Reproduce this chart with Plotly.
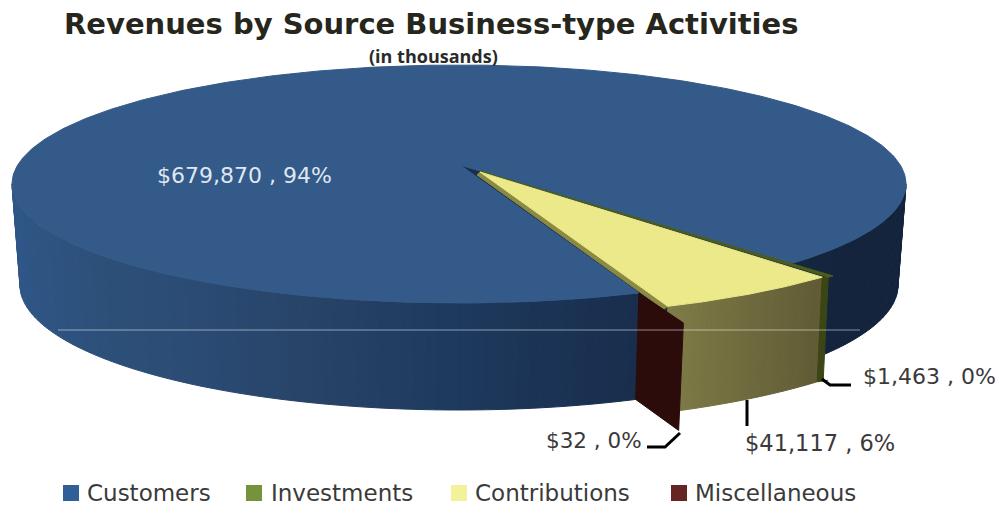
import numpy as np
import plotly.graph_objs as go

sources = ["Customers", "Investments", "Contributions", "Miscellaneous"]
amounts = [679870, 1463, 41117, 32]
legend_colors = ["#2f5f96", "#76923c", "#f2f29b", "#652523"]

total = sum(amounts)
labels = [f"${v:,} , {round(100 * v / total)}%" for v in amounts]

# pie geometry, in page pixels
START_ANGLE = 159.6
APEX = (460, 165)
TOP = dict(cx=459, cy=184, rx=447, ry=119)
BOTTOM = dict(cx=459, cy=285, rx=439, ry=125)
WEDGE_X, WEDGE_Y, WEDGE_SCALE = 480, 172, 1.05
NAVY = "#345a89"

angles = np.cumsum([START_ANGLE] + [v / total * 360 for v in amounts])


def _rim(theta):
    """Point on the top ellipse for a pie angle (clockwise from 12 o'clock)."""
    th = np.radians(theta)
    dx, dy = np.sin(th) * TOP["rx"], -np.cos(th) * TOP["ry"]
    ox, oy = APEX[0] - TOP["cx"], APEX[1] - TOP["cy"]
    a = (dx / TOP["rx"]) ** 2 + (dy / TOP["ry"]) ** 2
    b = 2 * (ox * dx / TOP["rx"] ** 2 + oy * dy / TOP["ry"] ** 2)
    c = (ox / TOP["rx"]) ** 2 + (oy / TOP["ry"]) ** 2 - 1
    k = (-b + np.sqrt(b * b - 4 * a * c)) / (2 * a)
    return APEX[0] + k * dx, APEX[1] + k * dy


def _base(theta):
    """Same pie angle, on the lower ellipse."""
    x, y = _rim(theta)
    t = np.arctan2((y - TOP["cy"]) / TOP["ry"], (x - TOP["cx"]) / TOP["rx"])
    return BOTTOM["cx"] + BOTTOM["rx"] * np.cos(t), BOTTOM["cy"] + BOTTOM["ry"] * np.sin(t)


def _wedge_top(theta, off=(0, 0)):
    x, y = _rim(theta)
    return (WEDGE_X + WEDGE_SCALE * (x - APEX[0]) + off[0],
            WEDGE_Y + WEDGE_SCALE * (y - APEX[1]) + off[1])


def _wedge_base(theta, off=(0, 0)):
    x, y = _base(theta)
    return (WEDGE_X + WEDGE_SCALE * (x - BOTTOM["cx"]) + off[0], WEDGE_SCALE * y - 7 + off[1])


def poly(pts, color, name=None):
    xs, ys = zip(*pts)
    return go.Scatter(x=list(xs) + [xs[0]], y=list(ys) + [ys[0]], mode="lines", fill="toself",
                      fillcolor=color, line=dict(color=color, width=1), name=name,
                      hoverinfo="name" if name else "skip", showlegend=False)


def hex_mix(x, xs, stops):
    rgb = [np.interp(x, xs, [int(s[i:i + 2], 16) for s in stops]) for i in (1, 3, 5)]
    return "rgb(%d,%d,%d)" % tuple(rgb)


fig = go.Figure()

# outer wall of the big slice, drawn as thin strips to get the shading
side_x = [20, 100, 200, 300, 450, 600, 700, 850, 900]
side_c = ["#2f5686", "#2d5079", "#2b4b74", "#284468", "#1e3a5e", "#1a3050",
          "#172b47", "#14243c", "#14243c"]
ts = np.radians(np.linspace(180, 0, 121))
for t0, t1 in zip(ts[:-1], ts[1:]):
    pts = []
    for t in (t0, t1):
        pts.append((TOP["cx"] + TOP["rx"] * np.cos(t), TOP["cy"] + TOP["ry"] * np.sin(t)))
    for t in (t1, t0):
        pts.append((BOTTOM["cx"] + BOTTOM["rx"] * np.cos(t), BOTTOM["cy"] + BOTTOM["ry"] * np.sin(t)))
    fig.add_trace(poly(pts, hex_mix(pts[0][0], side_x, side_c)))

# gap left behind by the pulled-out slices
fig.add_trace(poly([APEX, _rim(angles[1]), _rim(angles[3])], "#1a2f50"))

# Customers top face
thetas = np.linspace(angles[0], angles[1], 400)
fig.add_trace(poly([APEX] + [_rim(a) for a in thetas], NAVY, sources[0]))

# Contributions wall
c_thetas = np.linspace(angles[2], angles[3], 40)
for a0, a1 in zip(c_thetas[:-1], c_thetas[1:]):
    pts = [_wedge_top(a0), _wedge_top(a1), _wedge_base(a1), _wedge_base(a0)]
    fig.add_trace(poly(pts, hex_mix(pts[0][0], [670, 820], ["#7f7d48", "#625c36"])))

# Investments sliver
i_off = (6, 0)
i_thetas = np.linspace(angles[1], angles[2], 6)
fig.add_trace(poly([_wedge_top(a, i_off) for a in i_thetas] + [_wedge_base(a, i_off) for a in i_thetas[::-1]]
                   + [_wedge_base(angles[2]), _wedge_top(angles[2])], "#3b4614"))
fig.add_trace(poly([(WEDGE_X, WEDGE_Y - 1)] + [_wedge_top(a, i_off) for a in i_thetas], "#4c5c1c", sources[1]))

# Contributions top face, with a thin edge under it
edge = [(WEDGE_X - 3, WEDGE_Y + 3)] + [_wedge_top(a, (-4, 3)) for a in c_thetas[-1:]]
fig.add_trace(poly(edge + [_wedge_top(angles[3]), (WEDGE_X, WEDGE_Y)], "#8a8a42"))

# Miscellaneous wall
mx, my = _rim(angles[3])
bx, by = _base(angles[3])
fig.add_trace(poly([(mx, my), (mx + 44.5, my + 30), (bx + 43, by + 31), (bx, by)], "#2b0c0a", sources[3]))

fig.add_trace(poly([(WEDGE_X, WEDGE_Y)] + [_wedge_top(a) for a in c_thetas], "#ebe98a", sources[2]))

# faint line across the picture
fig.add_trace(go.Scatter(x=[58, 860], y=[330, 330], mode="lines", hoverinfo="skip", showlegend=False,
                         line=dict(color="rgba(255,255,255,0.5)", width=1)))

# leader lines
for lx, ly in [([680, 665, 647], [433, 447, 447]), ([747, 747], [400, 426]), ([822, 830, 851], [379, 385, 385])]:
    fig.add_trace(go.Scatter(x=lx, y=ly, mode="lines", hoverinfo="skip", showlegend=False,
                             line=dict(color="black", width=3)))

# legend
legend_x = [71, 254, 459, 679]
legend_tx = [86, 270, 474, 694]
fig.add_trace(go.Scatter(x=legend_x, y=[493] * 4, mode="markers", hoverinfo="skip", showlegend=False,
                         marker=dict(symbol="square", size=16, color=legend_colors, line=dict(width=0))))

font = "DejaVu Sans"
notes = [
    dict(text="<b>Revenues by Source Business-type Activities</b>", x=431, y=24,
         font=dict(family="DejaVu Sans", size=29, color="#26261c")),
    dict(text="<b>(in thousands)</b>", x=433, y=56, font=dict(family="Open Sans", size=18, color="#2a2a2a")),
    dict(text=labels[0], x=244, y=175, font=dict(family=font, size=22, color="#dfe7f0")),
    dict(text=labels[1], x=929, y=376, font=dict(family=font, size=22, color="#3a3a3a")),
    dict(text=labels[2], x=820, y=443, font=dict(family=font, size=22.5, color="#3a3a3a")),
    dict(text=labels[3], x=594, y=440, font=dict(family=font, size=21.5, color="#3a3a3a")),
]
for name, tx in zip(sources, legend_tx):
    notes.append(dict(text=name, x=tx - 1, y=493, xanchor="left", font=dict(family=font, size=23, color="#3a3a3a")))

for n in notes:
    fig.add_annotation(xref="x", yref="y", showarrow=False, **n)

fig.update_layout(
    width=1000, height=506, margin=dict(l=0, r=0, t=0, b=0),
    paper_bgcolor="white", plot_bgcolor="white", showlegend=False,
    xaxis=dict(range=[0, 1000], visible=False, fixedrange=True),
    yaxis=dict(range=[506, 0], visible=False, fixedrange=True),
)
# the page's default body margin would push the chart 8px in
fig.write_html("out.html", config=dict(displayModeBar=False),
               post_script="document.body.style.margin='0';document.body.style.overflow='hidden';")
